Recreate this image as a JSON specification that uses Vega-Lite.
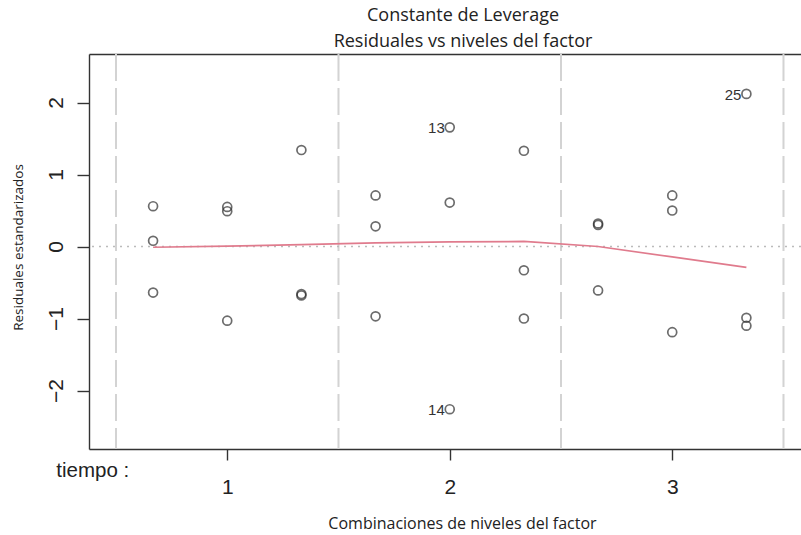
{
  "$schema": "https://vega.github.io/schema/vega-lite/v6.json",
  "autosize": {"type": "none"},
  "padding": {"left": 89, "top": 54, "right": 0, "bottom": 86},
  "width": 712,
  "height": 395,
  "background": "white",
  "config": {"view": {"stroke": null}},
  "title": {
    "text": ["Constante de Leverage", "Residuales vs niveles del factor"],
    "anchor": "middle",
    "font": "Open Sans",
    "fontSize": 18,
    "fontWeight": "normal",
    "color": "#222",
    "lineHeight": 26,
    "offset": 2,
    "dx": 18
  },
  "datasets": {
    "pts": [
      {"g": 0.6667, "r": 0.56, "lab": ""},
      {"g": 0.6667, "r": 0.08, "lab": ""},
      {"g": 0.6667, "r": -0.64, "lab": ""},
      {"g": 1.0, "r": 0.55, "lab": ""},
      {"g": 1.0, "r": 0.49, "lab": ""},
      {"g": 1.0, "r": -1.03, "lab": ""},
      {"g": 1.3333, "r": 1.34, "lab": ""},
      {"g": 1.3333, "r": -0.66, "lab": ""},
      {"g": 1.3333, "r": -0.68, "lab": ""},
      {"g": 1.6667, "r": 0.71, "lab": ""},
      {"g": 1.6667, "r": 0.28, "lab": ""},
      {"g": 1.6667, "r": -0.97, "lab": ""},
      {"g": 2.0, "r": 1.655, "lab": "13"},
      {"g": 2.0, "r": 0.61, "lab": ""},
      {"g": 2.0, "r": -2.26, "lab": "14"},
      {"g": 2.3333, "r": 1.33, "lab": ""},
      {"g": 2.3333, "r": -0.33, "lab": ""},
      {"g": 2.3333, "r": -1.0, "lab": ""},
      {"g": 2.6667, "r": 0.32, "lab": ""},
      {"g": 2.6667, "r": 0.3, "lab": ""},
      {"g": 2.6667, "r": -0.61, "lab": ""},
      {"g": 3.0, "r": 0.71, "lab": ""},
      {"g": 3.0, "r": 0.5, "lab": ""},
      {"g": 3.0, "r": -1.19, "lab": ""},
      {"g": 3.3333, "r": 2.12, "lab": "25"},
      {"g": 3.3333, "r": -0.99, "lab": ""},
      {"g": 3.3333, "r": -1.1, "lab": ""}
    ],
    "smooth": [
      {"g": 0.6667, "s": -0.01},
      {"g": 1.0, "s": 0.005},
      {"g": 1.3333, "s": 0.025},
      {"g": 1.6667, "s": 0.05},
      {"g": 2.0, "s": 0.065},
      {"g": 2.3333, "s": 0.07},
      {"g": 2.6667, "s": 0.0},
      {"g": 3.0, "s": -0.145},
      {"g": 3.3333, "s": -0.29}
    ],
    "seps": [{"g": 0.5}, {"g": 1.5}, {"g": 2.5}, {"g": 3.5}],
    "zero": [{"r": 0}],
    "factor": [{"g": 0.232, "r": -3.12, "t": "tiempo :"}]
  },
  "resolve": {"axis": {"x": "independent", "y": "independent"}},
  "layer": [
    {
      "data": {"name": "seps"},
      "mark": {"type": "rule", "color": "#d3d3d3", "strokeWidth": 2, "strokeDash": [27, 7]},
      "encoding": {
        "x": {"field": "g", "type": "quantitative", "scale": {"domain": [0.3787, 3.5787], "nice": false, "zero": false}, "axis": null}
      }
    },
    {
      "data": {"name": "zero"},
      "mark": {"type": "rule", "color": "#bbbbbb", "strokeWidth": 1.5, "strokeDash": [2, 5]},
      "encoding": {
        "y": {"field": "r", "type": "quantitative", "scale": {"domain": [-2.8125, 2.674], "nice": false, "zero": false}, "axis": null}
      }
    },
    {
      "data": {"name": "smooth"},
      "mark": {"type": "line", "color": "#e07b8d", "strokeWidth": 1.7},
      "encoding": {
        "x": {"field": "g", "type": "quantitative", "axis": null},
        "y": {"field": "s", "type": "quantitative", "axis": null}
      }
    },
    {
      "data": {"name": "pts"},
      "mark": {"type": "point", "shape": "circle", "filled": false, "size": 80, "stroke": "#2e2e2e", "strokeWidth": 1.7},
      "encoding": {
        "x": {
          "field": "g", "type": "quantitative",
          "axis": {
            "orient": "bottom", "values": [1, 2, 3], "grid": false,
            "domainColor": "#333", "domainWidth": 1.4,
            "tickColor": "#333", "tickWidth": 1.4, "tickSize": 11,
            "labelFont": "Liberation Sans", "labelFontSize": 21, "labelColor": "#222",
            "labelPadding": 16, "labelBaseline": "top", "labelFlush": false,
            "title": "Combinaciones de niveles del factor",
            "titleFont": "Open Sans", "titleFontSize": 16, "titleFontWeight": "normal", "titleColor": "#222",
            "titleX": 373, "titleY": 79, "titleAlign": "center", "titleBaseline": "alphabetic", "titleAnchor": null
          }
        },
        "y": {
          "field": "r", "type": "quantitative",
          "axis": {
            "orient": "left", "values": [-2, -1, 0, 1, 2], "grid": false,
            "domainColor": "#333", "domainWidth": 1.4,
            "tickColor": "#333", "tickWidth": 1.4, "tickSize": 12,
            "labelFont": "Liberation Sans", "labelFontSize": 21, "labelColor": "#222",
            "labelAngle": 270, "labelAlign": "center", "labelBaseline": "bottom", "labelPadding": 11,
            "title": "Residuales estandarizados",
            "titleFont": "Open Sans", "titleFontSize": 13.5, "titleFontWeight": "normal", "titleColor": "#222",
            "titleX": -71, "titleY": 193, "titleAngle": 270, "titleAlign": "center", "titleBaseline": "middle", "titleAnchor": null
          }
        }
      }
    },
    {
      "data": {"name": "pts"},
      "mark": {"type": "text", "align": "right", "baseline": "middle", "dx": -5, "dy": 1, "font": "Liberation Sans", "fontSize": 15, "color": "#333"},
      "encoding": {
        "x": {"field": "g", "type": "quantitative", "axis": null},
        "y": {"field": "r", "type": "quantitative", "axis": null},
        "text": {"field": "lab"}
      }
    },
    {
      "data": {"name": "factor"},
      "mark": {"type": "text", "align": "left", "baseline": "middle", "font": "Liberation Sans", "fontSize": 20.5, "color": "#222", "clip": false},
      "encoding": {
        "x": {"field": "g", "type": "quantitative", "axis": {"orient": "top", "labels": false, "ticks": false, "grid": false, "domainColor": "#333", "domainWidth": 1.4, "title": null}},
        "y": {"field": "r", "type": "quantitative", "axis": null},
        "text": {"field": "t"}
      }
    }
  ]
}
